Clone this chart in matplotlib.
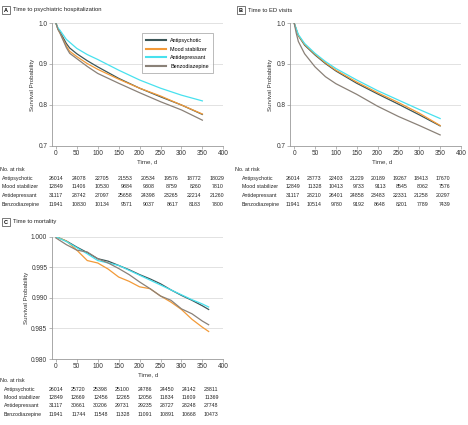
import matplotlib
matplotlib.use('Agg')
import matplotlib.pyplot as plt

plt.rcParams['font.family'] = ['Liberation Sans', 'DejaVu Sans']

W, H = 468, 425
groups = ['Antipsychotic', 'Mood stabilizer', 'Antidepressant', 'Benzodiazepine']
colors = ['#3b5658', '#f29a38', '#48e1ee', '#8a8178']

# panel A: time to psychiatric hospitalization
days_a = [0, 5, 10, 25, 33, 50, 75, 100, 150, 200, 250, 300, 350]
surv_a = {
    'Antipsychotic':   [1.0, 0.986, 0.978, 0.950, 0.939, 0.925, 0.908, 0.893, 0.865, 0.841, 0.820, 0.800, 0.777],
    'Mood stabilizer': [1.0, 0.985, 0.975, 0.944, 0.931, 0.918, 0.901, 0.887, 0.863, 0.841, 0.822, 0.800, 0.778],
    'Antidepressant':  [1.0, 0.988, 0.982, 0.960, 0.953, 0.938, 0.923, 0.911, 0.885, 0.861, 0.841, 0.824, 0.810],
    'Benzodiazepine':  [1.0, 0.984, 0.975, 0.940, 0.926, 0.913, 0.894, 0.877, 0.853, 0.830, 0.808, 0.788, 0.763],
}
# panel B: time to ED visits
days_b = [0, 5, 10, 25, 50, 75, 100, 150, 200, 250, 300, 350]
surv_b = {
    'Antipsychotic':   [1.0, 0.984, 0.969, 0.946, 0.922, 0.901, 0.883, 0.853, 0.827, 0.802, 0.776, 0.749],
    'Mood stabilizer': [1.0, 0.985, 0.970, 0.948, 0.924, 0.903, 0.885, 0.856, 0.830, 0.806, 0.780, 0.750],
    'Antidepressant':  [1.0, 0.986, 0.972, 0.950, 0.926, 0.906, 0.889, 0.861, 0.835, 0.812, 0.789, 0.767],
    'Benzodiazepine':  [1.0, 0.975, 0.955, 0.925, 0.893, 0.869, 0.852, 0.826, 0.797, 0.772, 0.750, 0.727],
}
# panel C: time to mortality
days_c = [0, 25, 50, 75, 100, 125, 150, 175, 200, 225, 250, 275, 300, 325, 350, 365]
surv_c = {
    'Antipsychotic':   [1.0, 0.9993, 0.9983, 0.9974, 0.9964, 0.9960, 0.9953, 0.9946, 0.9938, 0.9931, 0.9923, 0.9913, 0.9904, 0.9896, 0.9887, 0.9881],
    'Mood stabilizer': [1.0, 0.9993, 0.9978, 0.9961, 0.9957, 0.9947, 0.9934, 0.9927, 0.9918, 0.9915, 0.9903, 0.9893, 0.9881, 0.9865, 0.9852, 0.9845],
    'Antidepressant':  [1.0, 0.9992, 0.9982, 0.9972, 0.9961, 0.9957, 0.9953, 0.9945, 0.9937, 0.9929, 0.9921, 0.9913, 0.9905, 0.9897, 0.9890, 0.9885],
    'Benzodiazepine':  [0.9998, 0.9987, 0.9978, 0.9975, 0.9964, 0.9957, 0.9948, 0.9938, 0.9926, 0.9915, 0.9903, 0.9896, 0.9882, 0.9874, 0.9862, 0.9856],
}

risk_times = [0, 50, 100, 150, 200, 250, 300, 350]
risk_a = {
    'Antipsychotic':   [26014, 24078, 22705, 21553, 20534, 19576, 18772, 18029],
    'Mood stabilizer': [12849, 11406, 10530, 9884, 9308, 8759, 8260, 7810],
    'Antidepressant':  [31117, 28742, 27097, 25658, 24398, 23265, 22214, 21260],
    'Benzodiazepine':  [11941, 10830, 10134, 9571, 9037, 8617, 8183, 7800],
}
risk_b = {
    'Antipsychotic':   [26014, 23773, 22403, 21229, 20189, 19267, 18413, 17670],
    'Mood stabilizer': [12849, 11328, 10413, 9733, 9113, 8545, 8062, 7576],
    'Antidepressant':  [31117, 28210, 26401, 24858, 23483, 22331, 21258, 20297],
    'Benzodiazepine':  [11941, 10514, 9780, 9192, 8648, 8201, 7789, 7439],
}
risk_c = {
    'Antipsychotic':   [26014, 25720, 25398, 25100, 24786, 24450, 24142, 23811],
    'Mood stabilizer': [12849, 12669, 12456, 12265, 12056, 11834, 11609, 11369],
    'Antidepressant':  [31117, 30661, 30206, 29731, 29235, 28727, 28248, 27748],
    'Benzodiazepine':  [11941, 11744, 11548, 11328, 11091, 10891, 10668, 10473],
}

fig = plt.figure(figsize=(W / 100, H / 100), dpi=100)


def px_axes(x0, x1, ytop, ybot):
    return fig.add_axes([x0 / W, 1 - ybot / H, (x1 - x0) / W, (ybot - ytop) / H])


def style(ax, ylim, yticks, fmt, xlab, ylab):
    ax.set_xlim(-10, 400)
    ax.set_ylim(*ylim)
    ax.set_xticks(range(0, 401, 50))
    ax.set_yticks(yticks)
    ax.set_yticklabels([fmt.format(v) for v in yticks])
    for s in ['top', 'right']:
        ax.spines[s].set_visible(False)
    for s in ['left', 'bottom']:
        ax.spines[s].set_color('#9a9a9a')
        ax.spines[s].set_linewidth(0.6)
    ax.tick_params(labelsize=4.7, length=2, width=0.5, color='#9a9a9a', pad=1.2, labelcolor='#333333')
    for v in yticks[1:]:
        ax.plot([-10, 400], [v, v], color='#dddddd', lw=0.6, zorder=0)
    ax.set_xlabel('Time, d', fontsize=4.4, color='#333333')
    ax.set_ylabel('Survival Probability', fontsize=4.4, color='#333333')
    ax.xaxis.set_label_coords(*xlab)
    ax.yaxis.set_label_coords(*ylab)


def panel_title(px, py, letter, title):
    fig.text(px / W, 1 - py / H, letter, fontsize=4, fontweight='bold', va='center', ha='left',
             bbox=dict(boxstyle='square,pad=0.3', fc='white', ec='#444444', lw=0.5))
    fig.text((px + 9) / W, 1 - py / H, title, fontsize=4.2, va='center', ha='left', color='#222222')


def risk_table(risk, xhead, ytop, dy, xlab, xnum0, dxnum):
    fig.text(xhead / W, 1 - ytop / H, 'No. at risk', fontsize=3.9, va='center', ha='left', color='#222222')
    for i, g in enumerate(groups):
        y = 1 - (ytop + dy * (i + 1)) / H
        fig.text(xlab / W, y, g, fontsize=3.8, va='center', ha='left', color='#222222')
        for j, n in enumerate(risk[g]):
            fig.text((xnum0 + dxnum * j) / W, y, str(n), fontsize=3.8, va='center', ha='right', color='#222222')


# A
axA = px_axes(51.7, 223.3, 23, 146)
for g, c in zip(groups, colors):
    axA.plot(days_a, surv_a[g], color=c, lw=0.9, label=g)
style(axA, (0.7, 1.0), [0.7, 0.8, 0.9, 1.0], '{:.1f}', (0.555, -0.11), (-0.098, 0.5))
leg = axA.legend(loc='upper right', bbox_to_anchor=(0.94, 0.915), fontsize=3.9, frameon=True, fancybox=False,
                 handlelength=3.6, handletextpad=0.8, labelspacing=0.7, borderpad=0.8, borderaxespad=0)
leg.get_frame().set_edgecolor('#888888')
leg.get_frame().set_linewidth(0.5)
for line in leg.get_lines():
    line.set_linewidth(1.5)
panel_title(4, 10, 'A', 'Time to psychiatric hospitalization')
risk_table(risk_a, 0.5, 169.5, 8.75, 2, 63.3, 22.95)

# B
axB = px_axes(290, 461, 23, 146)
for g, c in zip(groups, colors):
    axB.plot(days_b, surv_b[g], color=c, lw=0.9)
style(axB, (0.7, 1.0), [0.7, 0.8, 0.9, 1.0], '{:.1f}', (0.536, -0.11), (-0.101, 0.5))
panel_title(239, 10, 'B', 'Time to ED visits')
risk_table(risk_b, 235, 169.5, 8.75, 241.7, 300.3, 21.4)

# C
axC = px_axes(51.7, 223.3, 236.7, 359)
for g, c in zip(groups, colors):
    axC.plot(days_c, surv_c[g], color=c, lw=0.9)
style(axC, (0.98, 1.0), [0.980, 0.985, 0.990, 0.995, 1.000], '{:.3f}', (0.56, -0.11), (-0.132, 0.5))
panel_title(4, 222, 'C', 'Time to mortality')
risk_table(risk_c, 0.5, 381, 8.3, 4, 63.3, 22.2)

fig.savefig('out.png', dpi=100)
